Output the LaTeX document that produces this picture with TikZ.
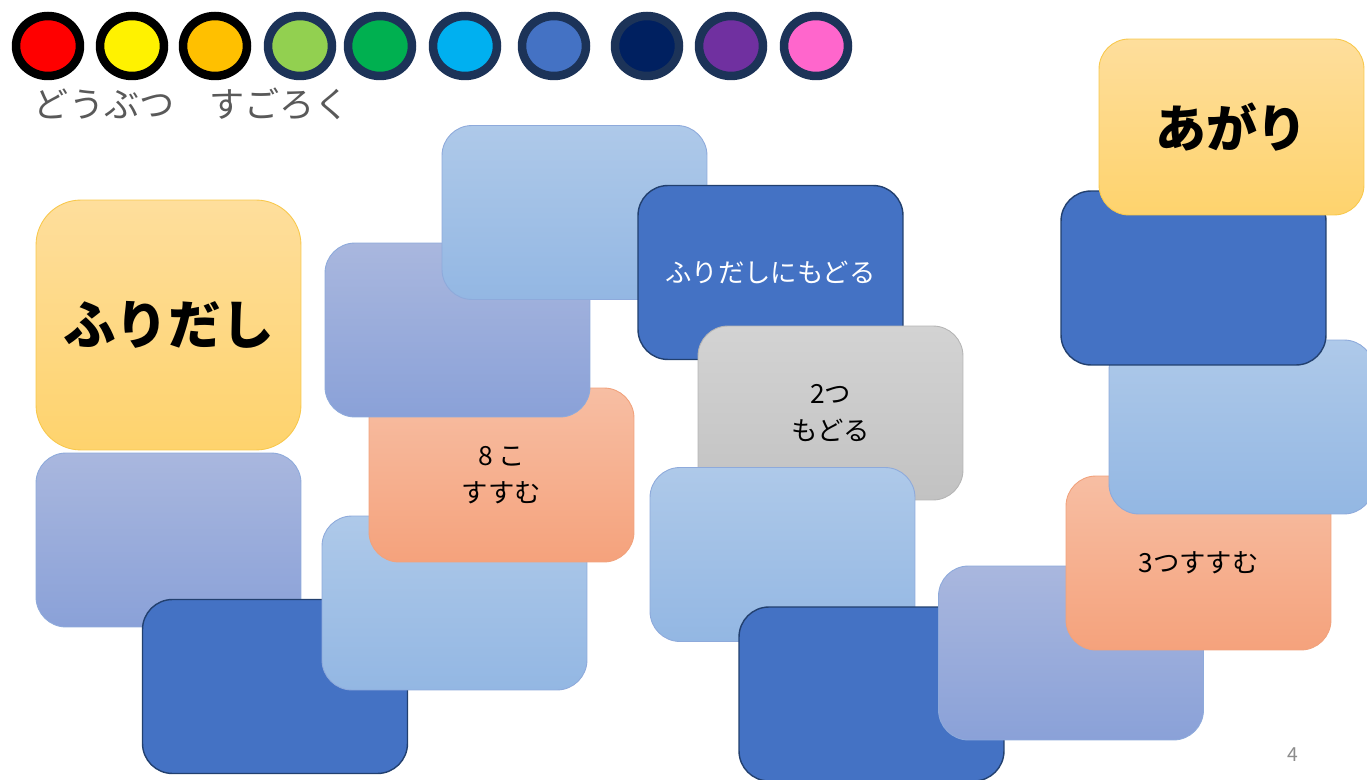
\documentclass[tikz,border=0pt]{standalone}
\usepackage{fontspec}
\newfontfamily\jp{Noto Sans CJK JP}
\usetikzlibrary{shapes.geometric}
\definecolor{goldtop}{HTML}{FEDE9C}
\definecolor{goldbot}{HTML}{FED36D}
\definecolor{goldline}{HTML}{F8C84C}
\definecolor{lighttop}{HTML}{AEC9E9}
\definecolor{lightbot}{HTML}{93B7E3}
\definecolor{purpletop}{HTML}{A9B7DE}
\definecolor{purplebot}{HTML}{8AA1D8}
\definecolor{cardline}{HTML}{8EAADB}
\definecolor{darkfill}{HTML}{4472C4}
\definecolor{darkline}{HTML}{22406F}
\definecolor{salmontop}{HTML}{F7BEA3}
\definecolor{salmonbot}{HTML}{F5A27C}
\definecolor{salmonline}{HTML}{F1A27C}
\definecolor{graytop}{HTML}{D3D3D3}
\definecolor{graybot}{HTML}{C2C2C2}
\definecolor{grayline}{HTML}{B5B5B5}
\definecolor{navyring}{HTML}{1C3358}

\begin{document}
\begin{tikzpicture}[x=0.02cm, y=-0.02cm, every node/.style={font=\jp, align=center},
  card/.style={rounded corners=0.6cm, minimum width=5.3cm, minimum height=3.48cm, inner sep=0pt, line width=0.5pt},
  lightcard/.style={card, draw=cardline, top color=lighttop, bottom color=lightbot},
  purplecard/.style={card, draw=cardline, top color=purpletop, bottom color=purplebot},
  darkcard/.style={card, draw=darkline, fill=darkfill, line width=0.8pt},
  salmoncard/.style={card, draw=salmonline, top color=salmontop, bottom color=salmonbot},
  graycard/.style={card, draw=grayline, top color=graytop, bottom color=graybot},
  goldcard/.style={card, draw=goldline, top color=goldtop, bottom color=goldbot},
  token/.style={ellipse, minimum width=1.28cm, minimum height=1.2cm, inner sep=0pt, line width=0.17cm},
  cardtext/.style={font=\jp\fontsize{15pt}{21pt}\selectfont}]
  \useasboundingbox (0,0) rectangle (1367,780);
  \clip (0,0) rectangle (1367,780);
  % colour tokens along the top
  \node[token, draw=black, fill=red]           (t1)  at (48,46)  {};
  \node[token, draw=black, fill=yellow]        (t2)  at (132,46) {};
  \node[token, draw=black, fill={rgb,255:red,255;green,192;blue,0}] (t3) at (215,46) {};
  \node[token, draw=navyring, fill={rgb,255:red,146;green,208;blue,80}] (t4) at (300,46) {};
  \node[token, draw=navyring, fill={rgb,255:red,0;green,176;blue,80}]   (t5) at (380,46) {};
  \node[token, draw=navyring, fill={rgb,255:red,0;green,176;blue,240}]  (t6) at (465,46) {};
  \node[token, draw=navyring, fill=darkfill]   (t7)  at (554,46) {};
  \node[token, draw=navyring, fill={rgb,255:red,0;green,32;blue,96}]    (t8) at (647,46) {};
  \node[token, draw=navyring, fill={rgb,255:red,112;green,48;blue,160}] (t9) at (731,46) {};
  \node[token, draw=navyring, fill={rgb,255:red,255;green,102;blue,204}] (t10) at (816,46) {};
  \node[text=black!65, font=\jp\fontsize{20pt}{22pt}\selectfont] (title) at (192,104) {どうぶつ　すごろく};
  % start square and the left column
  \node[goldcard, minimum height=5cm, rounded corners=0.9cm, font=\jp\bfseries\fontsize{30pt}{34pt}\selectfont] (start) at (168.5,325) {ふりだし};
  \node[purplecard] (c1) at (168.5,540) {};
  \node[darkcard]   (c2) at (275,686.5) {};
  \node[lightcard]  (c3) at (454.5,603) {};
  \node[salmoncard, cardtext] (go8) at (501.5,475) {8 こ\\すすむ};
  \node[purplecard] (c4) at (457.5,330) {};
  \node[lightcard]  (c5) at (574.5,212.5) {};
  % middle column
  \node[darkcard, cardtext, text=white] (back) at (770.5,272.5) {ふりだしにもどる};
  \node[graycard, cardtext] (back2) at (830.5,413) {2つ\\もどる};
  \node[lightcard]  (c6) at (782.5,554.5) {};
  \node[darkcard]   (c7) at (871.5,694) {};
  % right column up to the goal
  \node[purplecard] (c8) at (1071,653) {};
  \node[salmoncard, cardtext] (go3) at (1198.5,563) {3つすすむ};
  \node[lightcard]  (c9) at (1241.5,427) {};
  \node[darkcard]   (c10) at (1193.5,278) {};
  \node[goldcard, minimum height=3.52cm, font=\jp\bfseries\fontsize{29pt}{34pt}\selectfont] (goal) at (1231.5,127) {あがり};
  \node[text=black!45, font=\jp\fontsize{11pt}{13pt}\selectfont] (page) at (1293,755) {4};
\end{tikzpicture}
\end{document}
